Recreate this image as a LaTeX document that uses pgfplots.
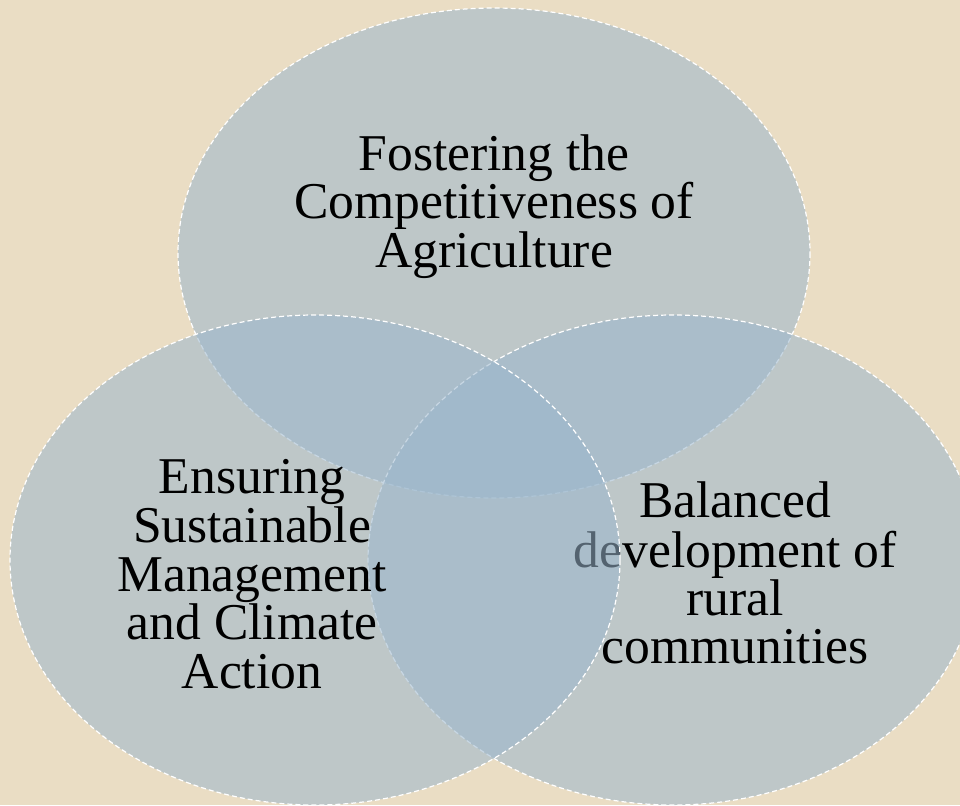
\documentclass[border=0pt]{standalone}
\usepackage{pgfplots}
\pgfplotsset{compat=1.18}
\usepackage{fontspec}
\setmainfont{Liberation Serif}

\definecolor{bg}{RGB}{234,221,196}
\definecolor{disc}{RGB}{154,182,204}

\begin{document}
\begin{tikzpicture}
\begin{axis}[
  scale only axis,
  width=480pt, height=402.5pt,
  xmin=0, xmax=960, ymin=0, ymax=805,
  y dir=reverse,
  hide axis,
  clip=true,
]
% background
\fill[bg] (axis cs:0,0) rectangle (axis cs:960,805);

\tikzset{
  venn/.style={fill=disc, fill opacity=0.55, draw=white, line width=0.6pt,
    dash pattern=on 2.5pt off 1.5pt},
  lbl/.style={anchor=base, inner sep=0pt, text=black,
    font=\fontsize{25.8}{24}\selectfont},
}

% top set
\draw[venn] (axis cs:494,253) ellipse [x radius=316, y radius=245];
\node[lbl] at (axis cs:494,170) {Fostering the};
\node[lbl] at (axis cs:494,218) {Competitiveness of};
\node[lbl] at (axis cs:494,267) {Agriculture};

% right set
\draw[venn] (axis cs:673,560) ellipse [x radius=305, y radius=245];
\node[lbl] at (axis cs:735,517) {Balanced};
\node[lbl] at (axis cs:735,567) {development of};
\node[lbl] at (axis cs:735,615) {rural};
\node[lbl] at (axis cs:735,663) {communities};

% left set
\draw[venn] (axis cs:315,560) ellipse [x radius=305, y radius=245];
\node[lbl] at (axis cs:252,493) {Ensuring};
\node[lbl] at (axis cs:252,542) {Sustainable};
\node[lbl] at (axis cs:252,591) {Management};
\node[lbl] at (axis cs:252,639) {and Climate};
\node[lbl] at (axis cs:252,688) {Action};
\end{axis}
\end{tikzpicture}
\end{document}
